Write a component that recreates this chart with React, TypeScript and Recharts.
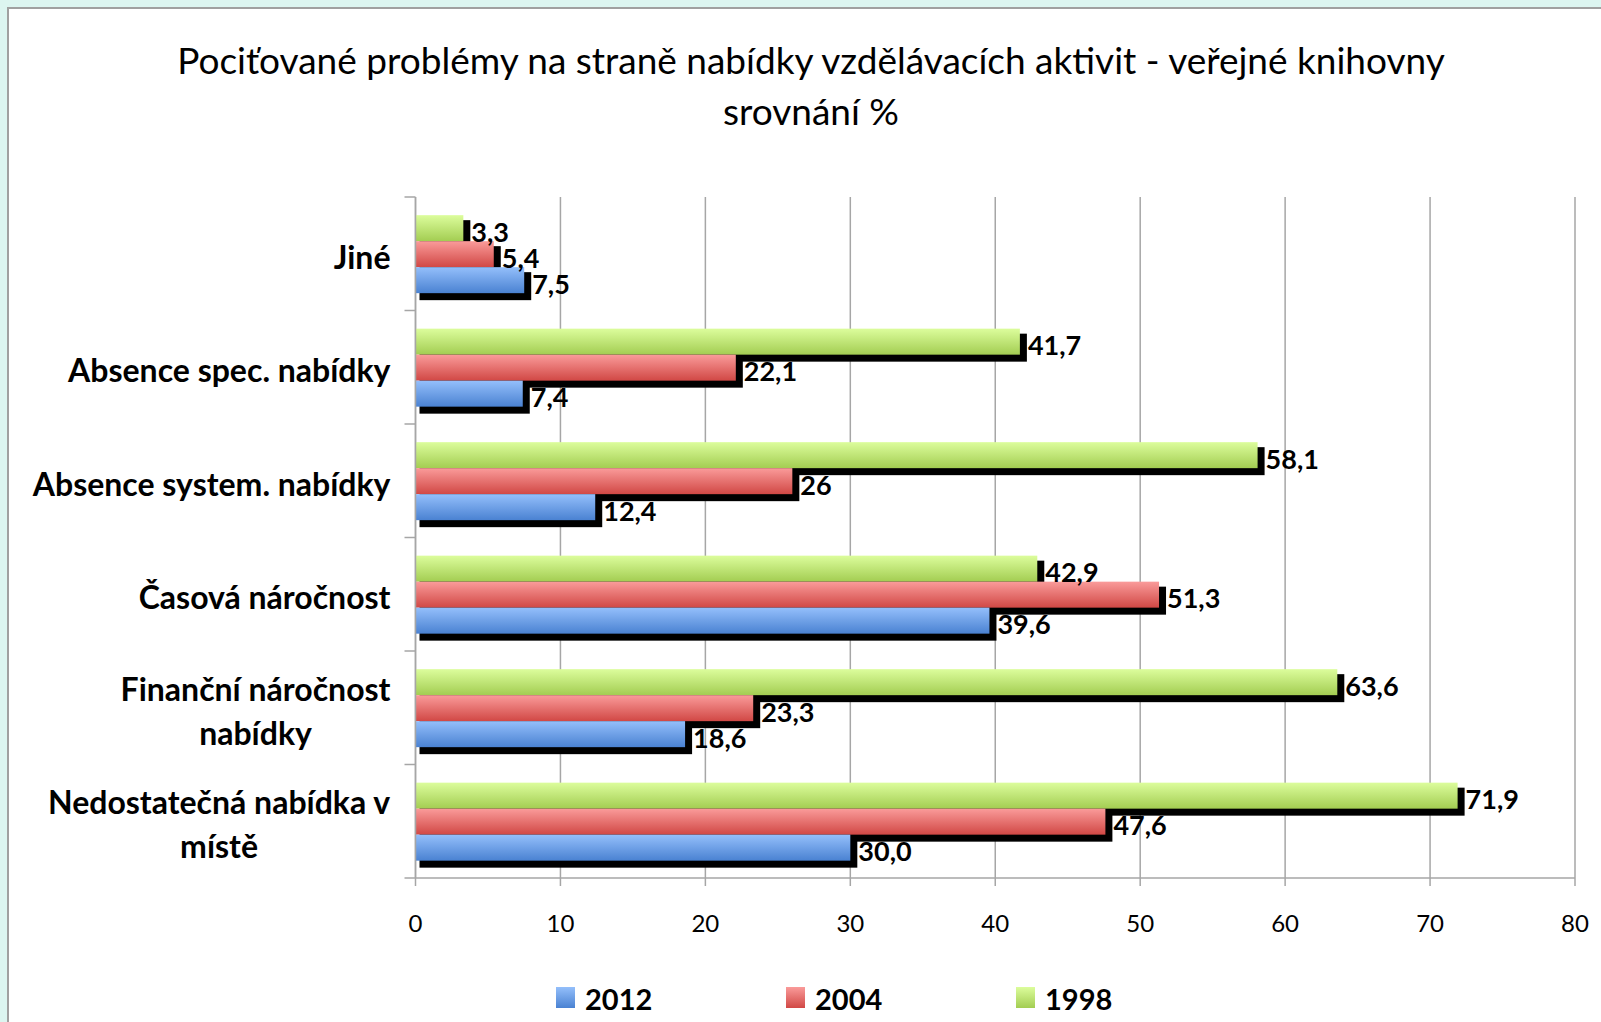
import React from "react";
import { BarChart, Bar, XAxis, YAxis, CartesianGrid, LabelList } from "recharts";

const categories = [
  "Jiné",
  "Absence spec. nabídky",
  "Absence system. nabídky",
  "Časová náročnost",
  "Finanční náročnost nabídky",
  "Nedostatečná nabídka v místě",
];
const values1998 = [3.3, 41.7, 58.1, 42.9, 63.6, 71.9];
const values2004 = [5.4, 22.1, 26, 51.3, 23.3, 47.6];
const values2012 = [7.5, 7.4, 12.4, 39.6, 18.6, 30.0];
const labels1998 = ["3,3", "41,7", "58,1", "42,9", "63,6", "71,9"];
const labels2004 = ["5,4", "22,1", "26", "51,3", "23,3", "47,6"];
const labels2012 = ["7,5", "7,4", "12,4", "39,6", "18,6", "30,0"];
const xTicks = [0, 10, 20, 30, 40, 50, 60, 70, 80];
const legendNames = ["2012", "2004", "1998"];
const titleLines = [
  "Pociťované problémy na straně nabídky vzdělávacích aktivit - veřejné knihovny",
  "srovnání %",
];

const data = categories.map((c, i) => ({
  cat: c,
  v1998: values1998[i],
  v2004: values2004[i],
  v2012: values2012[i],
  l1998: labels1998[i],
  l2004: labels2004[i],
  l2012: labels2012[i],
}));

const GRAD = {
  "2012": ["#94bffb", "#4a82d2"],
  "2004": ["#fa9b9a", "#d14845"],
  "1998": ["#dcfd9c", "#a3cd52"],
};

const FONT = "Lato, 'Open Sans', sans-serif";
const GRID = "#a6a6a6";
const CAT_SIZE = 32;
const CAT_FONT = `bold ${CAT_SIZE}px Lato`;

let ctx: CanvasRenderingContext2D | null = null;
function measure(t: string): number {
  if (!ctx) {
    const c = document.createElement("canvas");
    ctx = c.getContext("2d");
  }
  if (!ctx) return t.length * 16;
  ctx.font = CAT_FONT;
  return ctx.measureText(t).width;
}
function wrap(text: string, maxW: number): string[] {
  const words = text.split(" ");
  const lines: string[] = [];
  let cur = "";
  for (const w of words) {
    const cand = cur ? cur + " " + w : w;
    if (cur && measure(cand) > maxW) {
      lines.push(cur);
      cur = w;
    } else cur = cand;
  }
  if (cur) lines.push(cur);
  return lines;
}

const CatTick = (props: any) => {
  const { x, y, payload, index } = props;
  const off = payload.offset ?? 0;
  const lines = wrap(String(payload.value), 377);
  const maxW = Math.max(...lines.map(measure));
  const right = x - 25;
  const cx = right - maxW / 2;
  const lh = 44;
  const startY = y + 2 - ((lines.length - 1) * lh) / 2;
  return (
    <g>
      <line x1={x - 11} x2={x} y1={y - off} y2={y - off} stroke={GRID} strokeWidth={1.5} />
      {index === categories.length - 1 && (
        <line x1={x - 11} x2={x} y1={y + off} y2={y + off} stroke={GRID} strokeWidth={1.5} />
      )}
      <text
        x={cx}
        y={startY}
        textAnchor="middle"
        dominantBaseline="central"
        fontFamily={FONT}
        fontWeight="bold"
        fontSize={CAT_SIZE}
        fill="#000"
      >
        {lines.map((l, i) => (
          <tspan key={i} x={cx} y={startY + i * lh}>
            {l}
          </tspan>
        ))}
      </text>
    </g>
  );
};

const makeShape = (gid: string) => (props: any) => {
  const { x, y, width, height } = props;
  if (width == null || height == null) return <g />;
  return (
    <g>
      <rect x={x + 4} y={y + 5} width={width + 3} height={height + 2} fill="#000" />
      <rect x={x} y={y} width={width} height={height} fill={`url(#${gid})`} />
    </g>
  );
};

const ValueLabel = (props: any) => {
  const { x, y, width, height, value } = props;
  return (
    <text
      x={x + width + 8}
      y={y + height / 2 + 3}
      dominantBaseline="central"
      fontFamily={FONT}
      fontWeight="bold"
      fontSize={27}
      fill="#000"
    >
      {value}
    </text>
  );
};

export default function App() {
  return (
    <div
      style={{
        position: "absolute",
        left: 0,
        top: 0,
        width: 1601,
        height: 1022,
        overflow: "hidden",
        background: "#dcf5f0",
        fontFamily: FONT,
      }}
    >
      <svg width={0} height={0} style={{ position: "absolute" }}>
        <defs>
          {legendNames.map((n) => (
            <linearGradient key={n} id={`g${n}`} x1="0" y1="0" x2="0" y2="1">
              <stop offset="0%" stopColor={GRAD[n as keyof typeof GRAD][0]} />
              <stop offset="100%" stopColor={GRAD[n as keyof typeof GRAD][1]} />
            </linearGradient>
          ))}
        </defs>
      </svg>
      <div
        style={{
          position: "absolute",
          left: 7,
          top: 7,
          width: 1700,
          height: 1100,
          background: "#fff",
          borderLeft: "2px solid #a0a0a0",
          borderTop: "2px solid #a0a0a0",
        }}
      />
      {titleLines.map((t, i) => (
        <div
          key={i}
          style={{
            position: "absolute",
            left: 0,
            width: 1622,
            top: 34 + i * 51,
            height: 51,
            lineHeight: "51px",
            textAlign: "center",
            fontSize: 37,
            color: "#000",
            whiteSpace: "nowrap",
          }}
        >
          {t}
        </div>
      ))}
      <div style={{ position: "absolute", left: 0, top: 0 }}>
        <BarChart
          width={1601}
          height={1022}
          data={data}
          layout="vertical"
          margin={{ top: 197, right: 26, bottom: 84, left: 0 }}
          barCategoryGap="16%"
          barGap={0}
        >
          <CartesianGrid horizontal={false} stroke={GRID} strokeWidth={1.5} />
          <XAxis
            type="number"
            domain={[0, 80]}
            ticks={xTicks}
            interval={0}
            height={60}
            axisLine={{ stroke: GRID, strokeWidth: 1.5 }}
            tickLine={{ stroke: GRID, strokeWidth: 1.5 }}
            tickSize={8}
            tickMargin={29}
            tick={{ fill: "#000", fontSize: 24, fontFamily: FONT }}
          />
          <YAxis
            type="category"
            dataKey="cat"
            width={415.5}
            interval={0}
            tickLine={false}
            tickSize={0}
            tickMargin={0}
            axisLine={{ stroke: GRID, strokeWidth: 1.5 }}
            tick={<CatTick />}
          />
          <Bar dataKey="v1998" isAnimationActive={false} shape={makeShape("g1998")}>
            <LabelList dataKey="l1998" content={<ValueLabel />} />
          </Bar>
          <Bar dataKey="v2004" isAnimationActive={false} shape={makeShape("g2004")}>
            <LabelList dataKey="l2004" content={<ValueLabel />} />
          </Bar>
          <Bar dataKey="v2012" isAnimationActive={false} shape={makeShape("g2012")}>
            <LabelList dataKey="l2012" content={<ValueLabel />} />
          </Bar>
        </BarChart>
      </div>
      {legendNames.map((n, i) => (
        <div key={n}>
          <div
            style={{
              position: "absolute",
              left: 556 + i * 230,
              top: 987,
              width: 19,
              height: 21,
              background: `linear-gradient(${GRAD[n as keyof typeof GRAD][0]}, ${GRAD[n as keyof typeof GRAD][1]})`,
            }}
          />
          <div
            style={{
              position: "absolute",
              left: 585 + i * 230,
              top: 981,
              height: 36,
              lineHeight: "36px",
              fontSize: 29,
              fontWeight: "bold",
              color: "#000",
            }}
          >
            {n}
          </div>
        </div>
      ))}
    </div>
  );
}
